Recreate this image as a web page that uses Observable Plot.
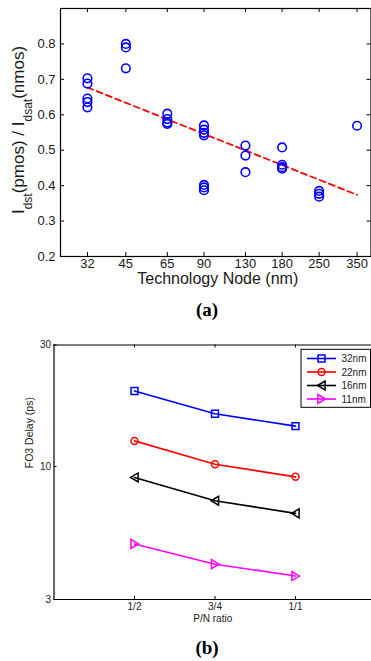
<!DOCTYPE html>
<html><head><meta charset="utf-8">
<script src="https://cdn.jsdelivr.net/npm/d3@7"></script>
<script src="https://cdn.jsdelivr.net/npm/@observablehq/plot@0.6"></script>
<style>
body{margin:0;background:#fff;}
#wrap{position:relative;width:371px;height:661px;overflow:hidden;font-family:"Liberation Sans",Arial,sans-serif;background:#fff;}
#wrap svg{position:absolute;left:0;}
.cap{position:absolute;left:0;width:414px;text-align:center;font:bold 19px "Liberation Serif","Times New Roman",serif;line-height:20px;color:#000;}
</style></head><body><div id="wrap"></div>
<script>
// ---------- chart (a) data ----------
const nodes = [32, 45, 65, 90, 130, 180, 250, 350];
const nodeLabels = ["32", "45", "65", "90", "130", "180", "250", "350"];
const ratioNode = [32,32,32,32,32, 45,45,45, 65,65,65,65, 90,90,90,90,90,90,90, 130,130,130, 180,180,180,180, 250,250,250, 350];
const ratioValue = [0.703,0.688,0.646,0.636,0.621, 0.800,0.790,0.731, 0.603,0.588,0.578,0.574, 0.570,0.558,0.549,0.542,0.402,0.395,0.387, 0.513,0.485,0.438, 0.508,0.459,0.452,0.448, 0.385,0.377,0.369, 0.569];
const fitNode = [32, 350];
const fitValue = [0.677, 0.374];
const yTicksA = [0.2, 0.3, 0.4, 0.5, 0.6, 0.7, 0.8];

// ---------- chart (b) data ----------
const ratioLabels = ["1/2", "3/4", "1/1"];
const seriesNames = ["32nm", "22nm", "16nm", "11nm"];
const delay32 = [19.8, 16.1, 14.4];
const delay22 = [12.6, 10.2, 9.1];
const delay16 = [9.05, 7.33, 6.54];
const delay11 = [4.96, 4.13, 3.71];
const yTicksB = [3, 10, 30];

const wrap = document.getElementById("wrap");
const W = 371;
const font = "Liberation Sans, Arial, Helvetica, sans-serif";

// ---------- chart (a) ----------
const hA = 295, mtA = 8, mbA = 39, mlA = 60, mrA = 0.5;
const phA = hA - mtA - mbA, pwA = W - mlA - mrA;
const ptsA = ratioNode.map((n, i) => ({node: n, value: ratioValue[i]}));
const fitA = fitNode.map((n, i) => ({node: n, value: fitValue[i]}));
const plotA = Plot.plot({
  width: W, height: hA, marginTop: mtA, marginBottom: mbA, marginLeft: mlA, marginRight: mrA,
  style: {fontFamily: font, background: "white", overflow: "visible"},
  x: {type: "log", domain: [25.2, 396], axis: null},
  y: {domain: [0.2, 0.9], axis: null},
  marks: [
    Plot.tickX(nodes, {x: d => d, insetTop: phA - 4, stroke: "#000"}),
    Plot.tickX(nodes, {x: d => d, insetBottom: phA - 4, stroke: "#000"}),
    Plot.tickY(yTicksA, {y: d => d, insetRight: pwA - 4, stroke: "#000"}),
    Plot.tickY(yTicksA, {y: d => d, insetLeft: pwA - 4, stroke: "#000"}),
    Plot.frame({stroke: "#000", strokeWidth: 1.2}),
    Plot.line(fitA, {x: "node", y: "value", stroke: "#ff0000", strokeWidth: 1.8, strokeDasharray: "6,4"}),
    Plot.dot(ptsA, {x: "node", y: "value", r: 4.3, stroke: "#0000ff", strokeWidth: 1.6, fill: "none"}),
    Plot.text(nodeLabels, {x: d => +d, text: d => d, frameAnchor: "bottom", dy: 11, fontSize: 13, fill: "#1a1a1a"}),
    Plot.text(yTicksA, {y: d => d, text: d => d.toFixed(1), frameAnchor: "left", dx: -5, textAnchor: "end", fontSize: 13, fill: "#1a1a1a"}),
    Plot.text(["Technology Node (nm)"], {text: d => d, frameAnchor: "bottom", dy: 27, dx: 2, fontSize: 16, fill: "#1a1a1a"})
  ]
});
plotA.style.top = "0px";
{
  const t = d3.select(plotA).append("text")
    .attr("transform", "translate(23.5,130) rotate(-90)")
    .attr("text-anchor", "middle").attr("font-size", 17).attr("fill", "#1a1a1a")
    .attr("font-family", font);
  t.append("tspan").text("I");
  t.append("tspan").attr("font-size", 12).attr("dy", 8).text("dst");
  t.append("tspan").attr("dy", -8).text("(pmos) / I");
  t.append("tspan").attr("font-size", 12).attr("dy", 8).text("dsat");
  t.append("tspan").attr("dy", -8).text("(nmos)");
}
wrap.appendChild(plotA);

const capA = document.createElement("div");
capA.className = "cap"; capA.style.top = "300px"; capA.textContent = "(a)";
wrap.appendChild(capA);

// ---------- chart (b) ----------
const triLeft = {draw(ctx, size) { const r = Math.sqrt(size / Math.PI); ctx.moveTo(-1.1 * r, 0); ctx.lineTo(1.0 * r, -1.25 * r); ctx.lineTo(1.0 * r, 1.25 * r); ctx.closePath(); }};
const triRight = {draw(ctx, size) { const r = Math.sqrt(size / Math.PI); ctx.moveTo(1.1 * r, 0); ctx.lineTo(-1.0 * r, -1.25 * r); ctx.lineTo(-1.0 * r, 1.25 * r); ctx.closePath(); }};
const seriesDefs = [
  {name: seriesNames[0], values: delay32, color: "#0000ff", symbol: d3.symbolSquare, r: 3.9},
  {name: seriesNames[1], values: delay22, color: "#ff0000", symbol: d3.symbolCircle, r: 3.5},
  {name: seriesNames[2], values: delay16, color: "#000000", symbol: triLeft, r: 3.6},
  {name: seriesNames[3], values: delay11, color: "#ff00ff", symbol: triRight, r: 3.6}
];
const hB = 315, mtB = 24.5, mbB = 36, mlB = 53.5, mrB = 0;
const phB = hB - mtB - mbB, pwB = W - mlB - mrB;
const marksB = [
  Plot.ruleX([0], {stroke: "#000", strokeWidth: 1.2}),
  Plot.ruleY([3, 30], {stroke: "#000", strokeWidth: 1.2}),
  Plot.tickY(yTicksB, {y: d => d, insetRight: pwB - 3, stroke: "#000"}),
  Plot.tickX([1, 2, 3], {x: d => d, insetTop: phB - 3, stroke: "#000"}),
  Plot.tickX([1, 2, 3], {x: d => d, insetBottom: phB - 3, stroke: "#000"})
];
for (const s of seriesDefs) {
  const data = s.values.map((v, i) => ({x: i + 1, y: v}));
  marksB.push(Plot.line(data, {x: "x", y: "y", stroke: s.color, strokeWidth: 1.6}));
  marksB.push(Plot.dot(data, {x: "x", y: "y", r: s.r, symbol: s.symbol, stroke: s.color, strokeWidth: 1.5, fill: "none"}));
}
marksB.push(
  Plot.text(yTicksB, {y: d => d, text: d => String(d), frameAnchor: "left", dx: -3, textAnchor: "end", fontSize: 10, fill: "#222"}),
  Plot.text(ratioLabels, {x: (d, i) => i + 1, text: d => d, frameAnchor: "bottom", dy: 10, fontSize: 10, fill: "#222"}),
  Plot.text(["P/N ratio"], {text: d => d, frameAnchor: "bottom", dy: 22.5, fontSize: 10, fill: "#222"}),
  Plot.text(["FO3 Delay (ps)"], {text: d => d, frameAnchor: "left", dx: -24, dy: -4, rotate: -90, fontSize: 10.5, fill: "#222"})
);
const plotB = Plot.plot({
  width: W, height: hB, marginTop: mtB, marginBottom: mbB, marginLeft: mlB, marginRight: mrB,
  style: {fontFamily: font, background: "white", overflow: "visible"},
  x: {domain: [0, 4], range: [53.5, 375.5], axis: null},
  y: {type: "log", domain: [3, 30], axis: null},
  marks: marksB
});
plotB.style.top = "320px";
{
  const svg = d3.select(plotB);
  const g = svg.append("g").attr("text-anchor", "start");
  g.append("rect").attr("x", 301).attr("y", 29.3).attr("width", 69.5).attr("height", 58)
    .attr("fill", "#fff").attr("stroke", "#000").attr("stroke-width", 1);
  seriesDefs.forEach((s, i) => {
    const y = 38.5 + i * 13.5;
    g.append("line").attr("x1", 307).attr("x2", 336).attr("y1", y).attr("y2", y)
      .attr("stroke", s.color).attr("stroke-width", 1.6);
    g.append("path").attr("d", d3.symbol(s.symbol, Math.PI * s.r * s.r)())
      .attr("transform", `translate(321.5,${y})`)
      .attr("fill", "none").attr("stroke", s.color).attr("stroke-width", 1.5);
    g.append("text").attr("x", 341.5).attr("y", y).attr("dy", "0.35em")
      .attr("text-anchor", "start")
      .attr("font-size", 10).attr("font-family", font).attr("fill", "#222").text(s.name);
  });
}
wrap.appendChild(plotB);

const capB = document.createElement("div");
capB.className = "cap"; capB.style.top = "638px"; capB.textContent = "(b)";
wrap.appendChild(capB);
</script>
</body></html>
